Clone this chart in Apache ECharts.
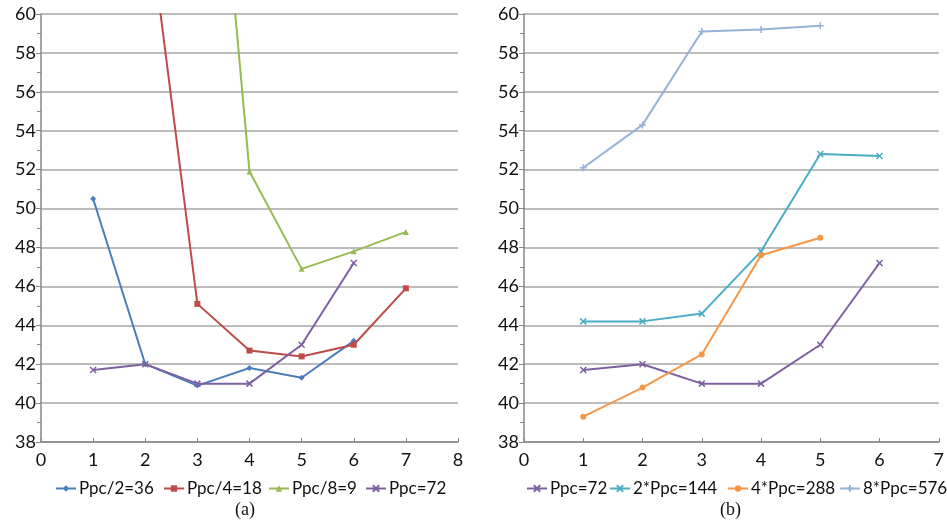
<!DOCTYPE html>
<html><head><meta charset="utf-8">
<script src="https://cdn.jsdelivr.net/npm/echarts@6/dist/echarts.min.js"></script>
<style>html,body{margin:0;padding:0;background:#fff}#c{width:947px;height:527px}</style>
</head><body><div id="c"></div>
<script>
const xs = [1, 2, 3, 4, 5, 6, 7];
// Panel (a)
const a_names = ['Ppc/2=36', 'Ppc/4=18', 'Ppc/8=9', 'Ppc=72'];
const a_ppc2 = [50.5, 42.0, 40.9, 41.8, 41.3, 43.2, null];
const a_ppc4 = [null, 66.2, 45.1, 42.7, 42.4, 43.0, 45.9];
const a_ppc8 = [null, null, 81.5, 51.9, 46.9, 47.8, 48.8];
const a_ppc72 = [41.7, 42.0, 41.0, 41.0, 43.0, 47.2, null];
// Panel (b)
const b_names = ['Ppc=72', '2*Ppc=144', '4*Ppc=288', '8*Ppc=576'];
const b_ppc72 = [41.7, 42.0, 41.0, 41.0, 43.0, 47.2, null];
const b_ppc144 = [44.2, 44.2, 44.6, 47.8, 52.8, 52.7, null];
const b_ppc288 = [39.3, 40.8, 42.5, 47.6, 48.5, null, null];
const b_ppc576 = [52.1, 54.3, 59.1, 59.2, 59.4, null, null];
const yTicks = [38, 40, 42, 44, 46, 48, 50, 52, 54, 56, 58, 60];

const pairs = v => xs.map((x, i) => [x, v[i]]).filter(p => p[1] !== null);
const X_SYM = 'path://M0,0L10,10M10,0L0,10';
const PLUS_SYM = 'path://M5,0L5,10M0,5L10,5';
const font = 'Lato';
const gridColor = '#a6a6a6';

function mk(name, data, color, symbol, size, xi, isStroke) {
  return {
    name, type: 'line', data: pairs(data), xAxisIndex: xi, yAxisIndex: xi,
    symbol, symbolSize: size, clip: true, showSymbol: true,
    lineStyle: { color, width: 2 },
    itemStyle: { color, borderColor: color, borderWidth: isStroke ? 1.5 : 0 },
    emphasis: { disabled: true }, animation: false
  };
}
function yAx(gi) {
  return {
    type: 'value', gridIndex: gi, min: 38, max: 60, interval: 2,
    axisLine: { show: true, lineStyle: { color: '#868686', width: 1.5 } },
    axisTick: { show: true, length: 5, lineStyle: { color: '#868686' } },
    minorTick: { show: true, splitNumber: 2, length: 4, lineStyle: { color: '#868686' } },
    splitLine: { show: true, lineStyle: { color: gridColor, width: 1.5 } },
    axisLabel: { fontFamily: font, fontSize: 18, color: '#111', margin: 5,
      formatter: v => yTicks.includes(v) ? String(v) : '' }
  };
}
function xAx(gi, max) {
  return {
    type: 'value', gridIndex: gi, min: 0, max, interval: 1,
    axisLine: { show: true, onZero: false, lineStyle: { color: '#868686', width: 1.5 } },
    axisTick: { show: true, inside: true, length: 4, lineStyle: { color: '#868686' } },
    splitLine: { show: false },
    axisLabel: { fontFamily: font, fontSize: 18, color: '#111', margin: 9 }
  };
}
const legText = { fontFamily: font, fontSize: 17, color: '#111', padding: [0, 0, 0, -2] };
const legLeftA = [55, 163, 268, 365];
const legLeftB = [526, 609, 727, 839];
const legends = [];
a_names.forEach((n, i) => legends.push({ data: [n], left: legLeftA[i], top: 480, itemWidth: 20, itemHeight: 8,
  padding: 0, textStyle: legText }));
b_names.forEach((n, i) => legends.push({ data: [n + ' '], left: legLeftB[i], top: 480, itemWidth: 20, itemHeight: 8,
  padding: 0, textStyle: legText, formatter: s => s.trim() }));

const chart = echarts.init(document.getElementById('c'), null, { renderer: 'canvas' });
chart.setOption({
  backgroundColor: '#fff',
  animation: false,
  grid: [
    { left: 41, right: 489, top: 14, bottom: 85 },
    { left: 524, right: 6, top: 14, bottom: 85 }
  ],
  xAxis: [xAx(0, 8), xAx(1, 7)],
  yAxis: [yAx(0), yAx(1)],
  legend: legends,
  graphic: [
    { type: 'text', left: 235, top: 501, style: { text: '(a)', font: '18px "Liberation Serif"', fill: '#111' } },
    { type: 'text', left: 720, top: 501, style: { text: '(b)', font: '18px "Liberation Serif"', fill: '#111' } }
  ],
  series: [
    mk('Ppc/2=36', a_ppc2, '#4A7EBB', 'diamond', 6, 0),
    mk('Ppc/4=18', a_ppc4, '#BE4B48', 'rect', 6, 0),
    mk('Ppc/8=9', a_ppc8, '#98B954', 'triangle', 6, 0),
    mk('Ppc=72', a_ppc72, '#7D60A0', X_SYM, 6, 0, true),
    mk('Ppc=72 ', b_ppc72, '#7D60A0', X_SYM, 6, 1, true),
    mk('2*Ppc=144 ', b_ppc144, '#4BACC6', X_SYM, 6, 1, true),
    mk('4*Ppc=288 ', b_ppc288, '#F79646', 'circle', 6, 1),
    mk('8*Ppc=576 ', b_ppc576, '#95B3D7', PLUS_SYM, 7, 1, true)
  ]
});
</script>
</body></html>
